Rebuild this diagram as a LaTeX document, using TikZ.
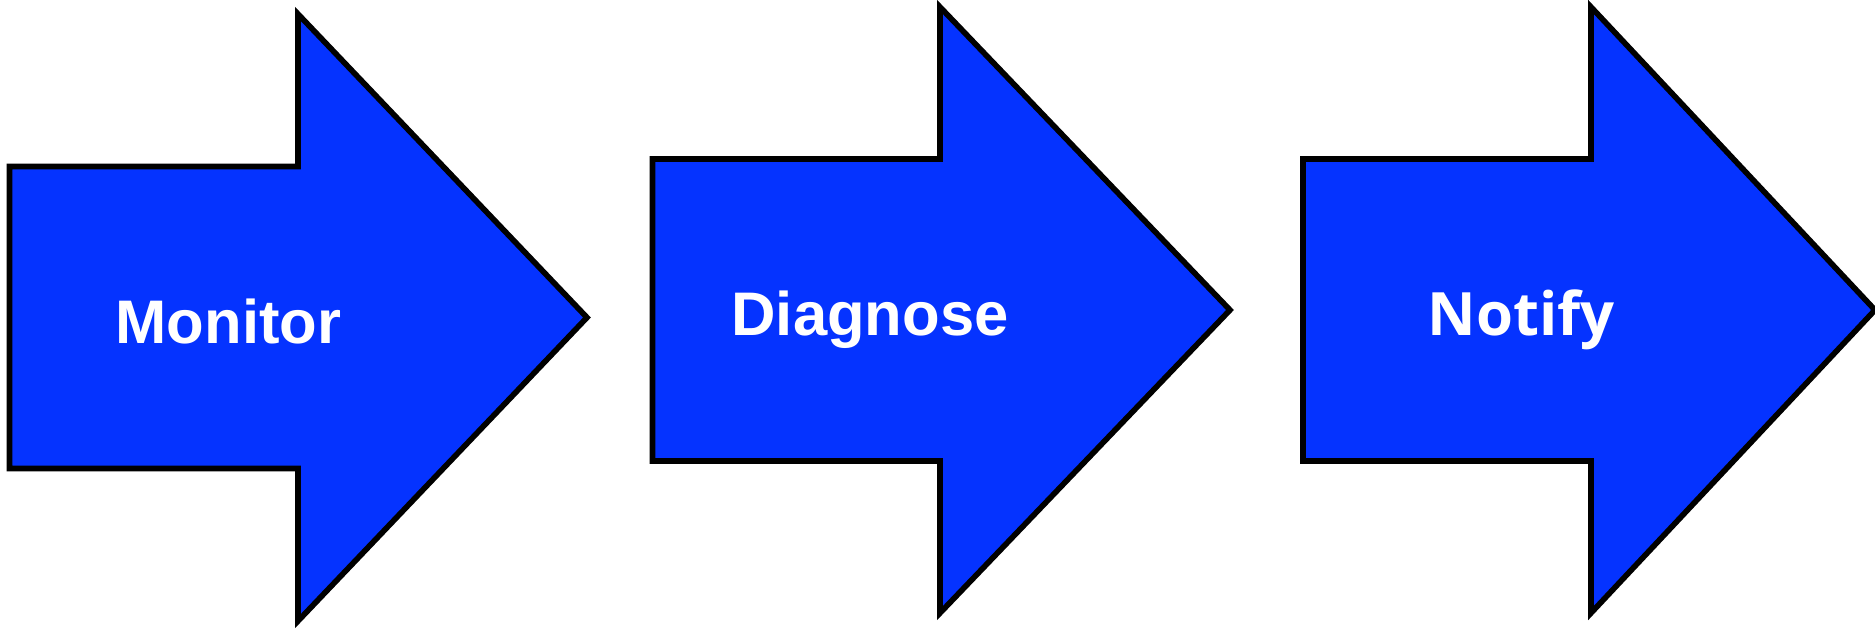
\documentclass[tikz,border=0pt]{standalone}
\usepackage{fontspec}
\setmainfont{Liberation Sans}
\newfontfamily\notifyfont{Open Sans}
\usepackage{xcolor}
\definecolor{ArrowBlue}{HTML}{0533FF}

\begin{document}
\begin{tikzpicture}[x=0.01cm, y=-0.01cm,
    stage/.style={draw=black, line width=1.6pt, fill=ArrowBlue, line join=miter},
    lbl/.style={anchor=base, text=white, inner sep=0pt, font=\fontsize{17.5}{21}\selectfont\bfseries}
  ]
  \useasboundingbox (0,0) rectangle (1875,629);

  % Stage arrows (shaft, then head)
  \draw[stage] (9.5,166.5) -- (298,166.5) -- (298,14) -- (587,317.5) -- (298,621) -- (298,468.5) -- (9.5,468.5) -- cycle;
  \draw[stage] (652.5,159) -- (940,159) -- (940,7) -- (1230,310) -- (940,613) -- (940,461) -- (652.5,461) -- cycle;
  \draw[stage] (1303,159) -- (1591,159) -- (1591,7) -- (1875,310) -- (1591,613) -- (1591,461) -- (1303,461) -- cycle;

  % Stage labels
  \node[lbl] (monitor) at (228.5,343) {Monitor};
  \node[lbl] (diagnose) at (870,335) {Diagnose};
  \node[lbl, font=\notifyfont\fontsize{17}{20}\selectfont\bfseries] (notify) at (1521,335) {Notify};
\end{tikzpicture}
\end{document}
